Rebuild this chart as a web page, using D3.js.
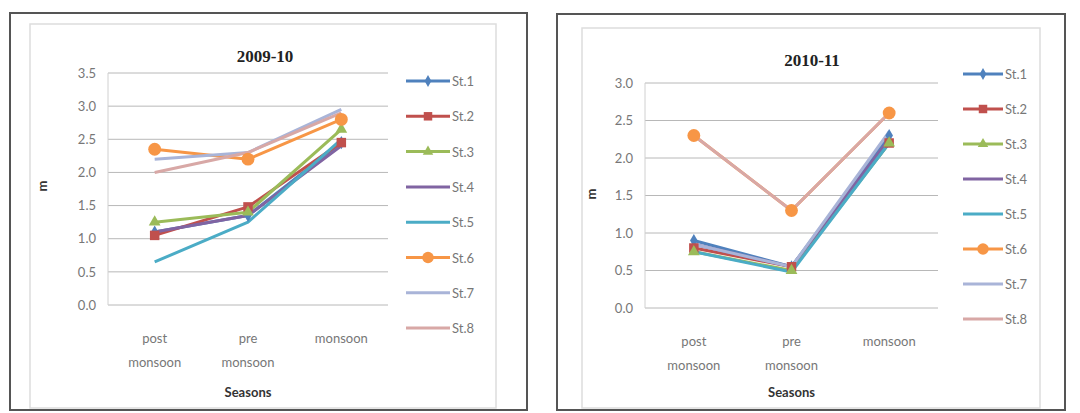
<!DOCTYPE html>
<html>
<head>
<meta charset="utf-8">
<script src="https://cdn.jsdelivr.net/npm/d3@7"></script>
<style>
  body { margin: 0; background: #fff; }
  svg { display: block; }
</style>
</head>
<body>
<div id="container"></div>
<script>
const seasons = ["post monsoon", "pre monsoon", "monsoon"];
const stations = ["St.1", "St.2", "St.3", "St.4", "St.5", "St.6", "St.7", "St.8"];
const stationColors = ["#4F81BD", "#C0504D", "#9BBB59", "#8064A2", "#4BACC6", "#F79646", "#A9B4D8", "#D8A8A6"];
const markers = ["diamond", "square", "triangle", "none", "none", "circle", "none", "none"];

// 2009-10 values (m), one array per station
const y2009 = [
  [1.10, 1.35, 2.45],
  [1.05, 1.48, 2.45],
  [1.25, 1.40, 2.65],
  [1.10, 1.35, 2.40],
  [0.65, 1.25, 2.50],
  [2.35, 2.20, 2.80],
  [2.20, 2.30, 2.95],
  [2.00, 2.30, 2.90]
];
const ticks2009 = [0, 0.5, 1, 1.5, 2, 2.5, 3, 3.5];

// 2010-11 values (m)
const y2010 = [
  [0.90, 0.55, 2.30],
  [0.80, 0.55, 2.20],
  [0.75, 0.50, 2.20],
  [0.85, 0.55, 2.25],
  [0.75, 0.48, 2.20],
  [2.30, 1.30, 2.60],
  [0.85, 0.55, 2.35],
  [2.30, 1.30, 2.60]
];
const ticks2010 = [0, 0.5, 1, 1.5, 2, 2.5, 3];

const svg = d3.select("#container").append("svg")
  .attr("width", 1080).attr("height", 413);

function drawChart(cfg) {
  const g = svg.append("g");

  // outer frame + plot-area frame
  g.append("rect").attr("x", cfg.box[0]).attr("y", cfg.box[1])
    .attr("width", cfg.box[2]).attr("height", cfg.box[3])
    .attr("fill", "#fff").attr("stroke", "#555").attr("stroke-width", 2);
  g.append("rect").attr("x", cfg.inner[0]).attr("y", cfg.inner[1])
    .attr("width", cfg.inner[2]).attr("height", cfg.inner[3])
    .attr("fill", "none").attr("stroke", "#ddd").attr("stroke-width", 1.5);

  const x = d3.scalePoint().domain(seasons).range([cfg.x0, cfg.x1]).padding(0.5);
  const y = d3.scaleLinear().domain([0, d3.max(cfg.ticks)]).range([cfg.y0, cfg.y1]);

  // gridlines
  g.selectAll("line.grid").data(cfg.ticks).enter().append("line")
    .attr("x1", cfg.x0).attr("x2", cfg.x1)
    .attr("y1", d => y(d)).attr("y2", d => y(d))
    .attr("stroke", "#b8b8b8").attr("stroke-width", 1);
  g.append("line").attr("x1", cfg.x0).attr("x2", cfg.x0)
    .attr("y1", y(0)).attr("y2", y(d3.max(cfg.ticks)))
    .attr("stroke", "#d0d0d0");

  const yAxis = d3.axisLeft(y).tickValues(cfg.ticks).tickFormat(d3.format(".1f")).tickSize(0).tickPadding(12);
  const ya = g.append("g").attr("transform", `translate(${cfg.x0},0)`).call(yAxis);
  ya.select(".domain").remove();
  ya.selectAll("text").attr("font-family", "Lato, 'Open Sans', sans-serif")
    .attr("font-size", 13).attr("fill", "#777");

  // x labels (two lines)
  seasons.forEach(s => {
    const parts = s.split(" ");
    const t = g.append("text").attr("x", x(s)).attr("y", y(0) + 38)
      .attr("text-anchor", "middle").attr("font-family", "Lato, 'Open Sans', sans-serif")
      .attr("font-size", 13).attr("fill", "#777");
    parts.forEach((p, i) => t.append("tspan").attr("x", x(s)).attr("dy", i ? 24 : 0).text(p));
  });

  g.append("text").attr("x", cfg.titleX).attr("y", cfg.titleY)
    .attr("text-anchor", "middle").attr("font-family", "'Liberation Serif', serif")
    .attr("font-weight", "bold").attr("font-size", 17).attr("fill", "#222").text(cfg.title);
  g.append("text").attr("x", x(seasons[1])).attr("y", cfg.box[1] + cfg.box[3] - 13)
    .attr("text-anchor", "middle").attr("font-family", "Lato, 'Open Sans', sans-serif")
    .attr("font-weight", "bold").attr("font-size", 13).attr("fill", "#333").text("Seasons");
  g.append("text").attr("x", cfg.mX).attr("y", cfg.mY)
    .attr("text-anchor", "middle").attr("font-family", "Lato, sans-serif")
    .attr("font-weight", "bold").attr("font-size", 13).attr("fill", "#333")
    .attr("transform", `rotate(-90,${cfg.mX},${cfg.mY})`).text("m");

  const line = d3.line().x((d, i) => x(seasons[i])).y(d => y(d));

  cfg.values.forEach((vals, k) => {
    g.append("path").datum(vals).attr("d", line).attr("fill", "none")
      .attr("stroke", stationColors[k]).attr("stroke-width", 3).attr("stroke-linejoin", "round");
  });
  cfg.values.forEach((vals, k) => {
    vals.forEach((v, i) => drawMarker(g, markers[k], x(seasons[i]), y(v), stationColors[k], 1));
  });

  // legend
  stations.forEach((s, k) => {
    const ly = cfg.legY + k * cfg.legStep;
    g.append("line").attr("x1", cfg.legX).attr("x2", cfg.legX + cfg.legW)
      .attr("y1", ly).attr("y2", ly).attr("stroke", stationColors[k]).attr("stroke-width", 3);
    drawMarker(g, markers[k], cfg.legX + cfg.legW / 2, ly, stationColors[k], 0.8);
    g.append("text").attr("x", cfg.legX + cfg.legW + 2).attr("y", ly + 5)
      .attr("font-family", "Lato, 'Open Sans', sans-serif").attr("font-size", 13)
      .attr("fill", "#777").text(s);
  });
}

function drawMarker(g, type, cx, cy, color, s) {
  const sym = { diamond: [d3.symbolDiamond, 50], square: [d3.symbolSquare, 90],
    triangle: [d3.symbolTriangle, 60], circle: [d3.symbolCircle, 130] }[type];
  if (!sym) return;
  g.append("path").attr("d", d3.symbol(sym[0], sym[1] * s))
    .attr("transform", `translate(${cx},${cy})`).attr("fill", color);
}

drawChart({
  title: "2009-10", values: y2009, ticks: ticks2009,
  box: [10, 13, 517, 397], inner: [30, 24, 466, 384],
  x0: 108, x1: 388, y0: 305, y1: 73,
  titleX: 265, titleY: 62, mX: 47, mY: 186,
  legX: 406, legW: 44, legY: 81, legStep: 35.3
});

drawChart({
  title: "2010-11", values: y2010, ticks: ticks2010,
  box: [557, 14, 508, 396], inner: [582, 28, 458, 380],
  x0: 645, x1: 938, y0: 308, y1: 83,
  titleX: 812, titleY: 66, mX: 596, mY: 194,
  legX: 963, legW: 40, legY: 74, legStep: 35
});
</script>
</body>
</html>
